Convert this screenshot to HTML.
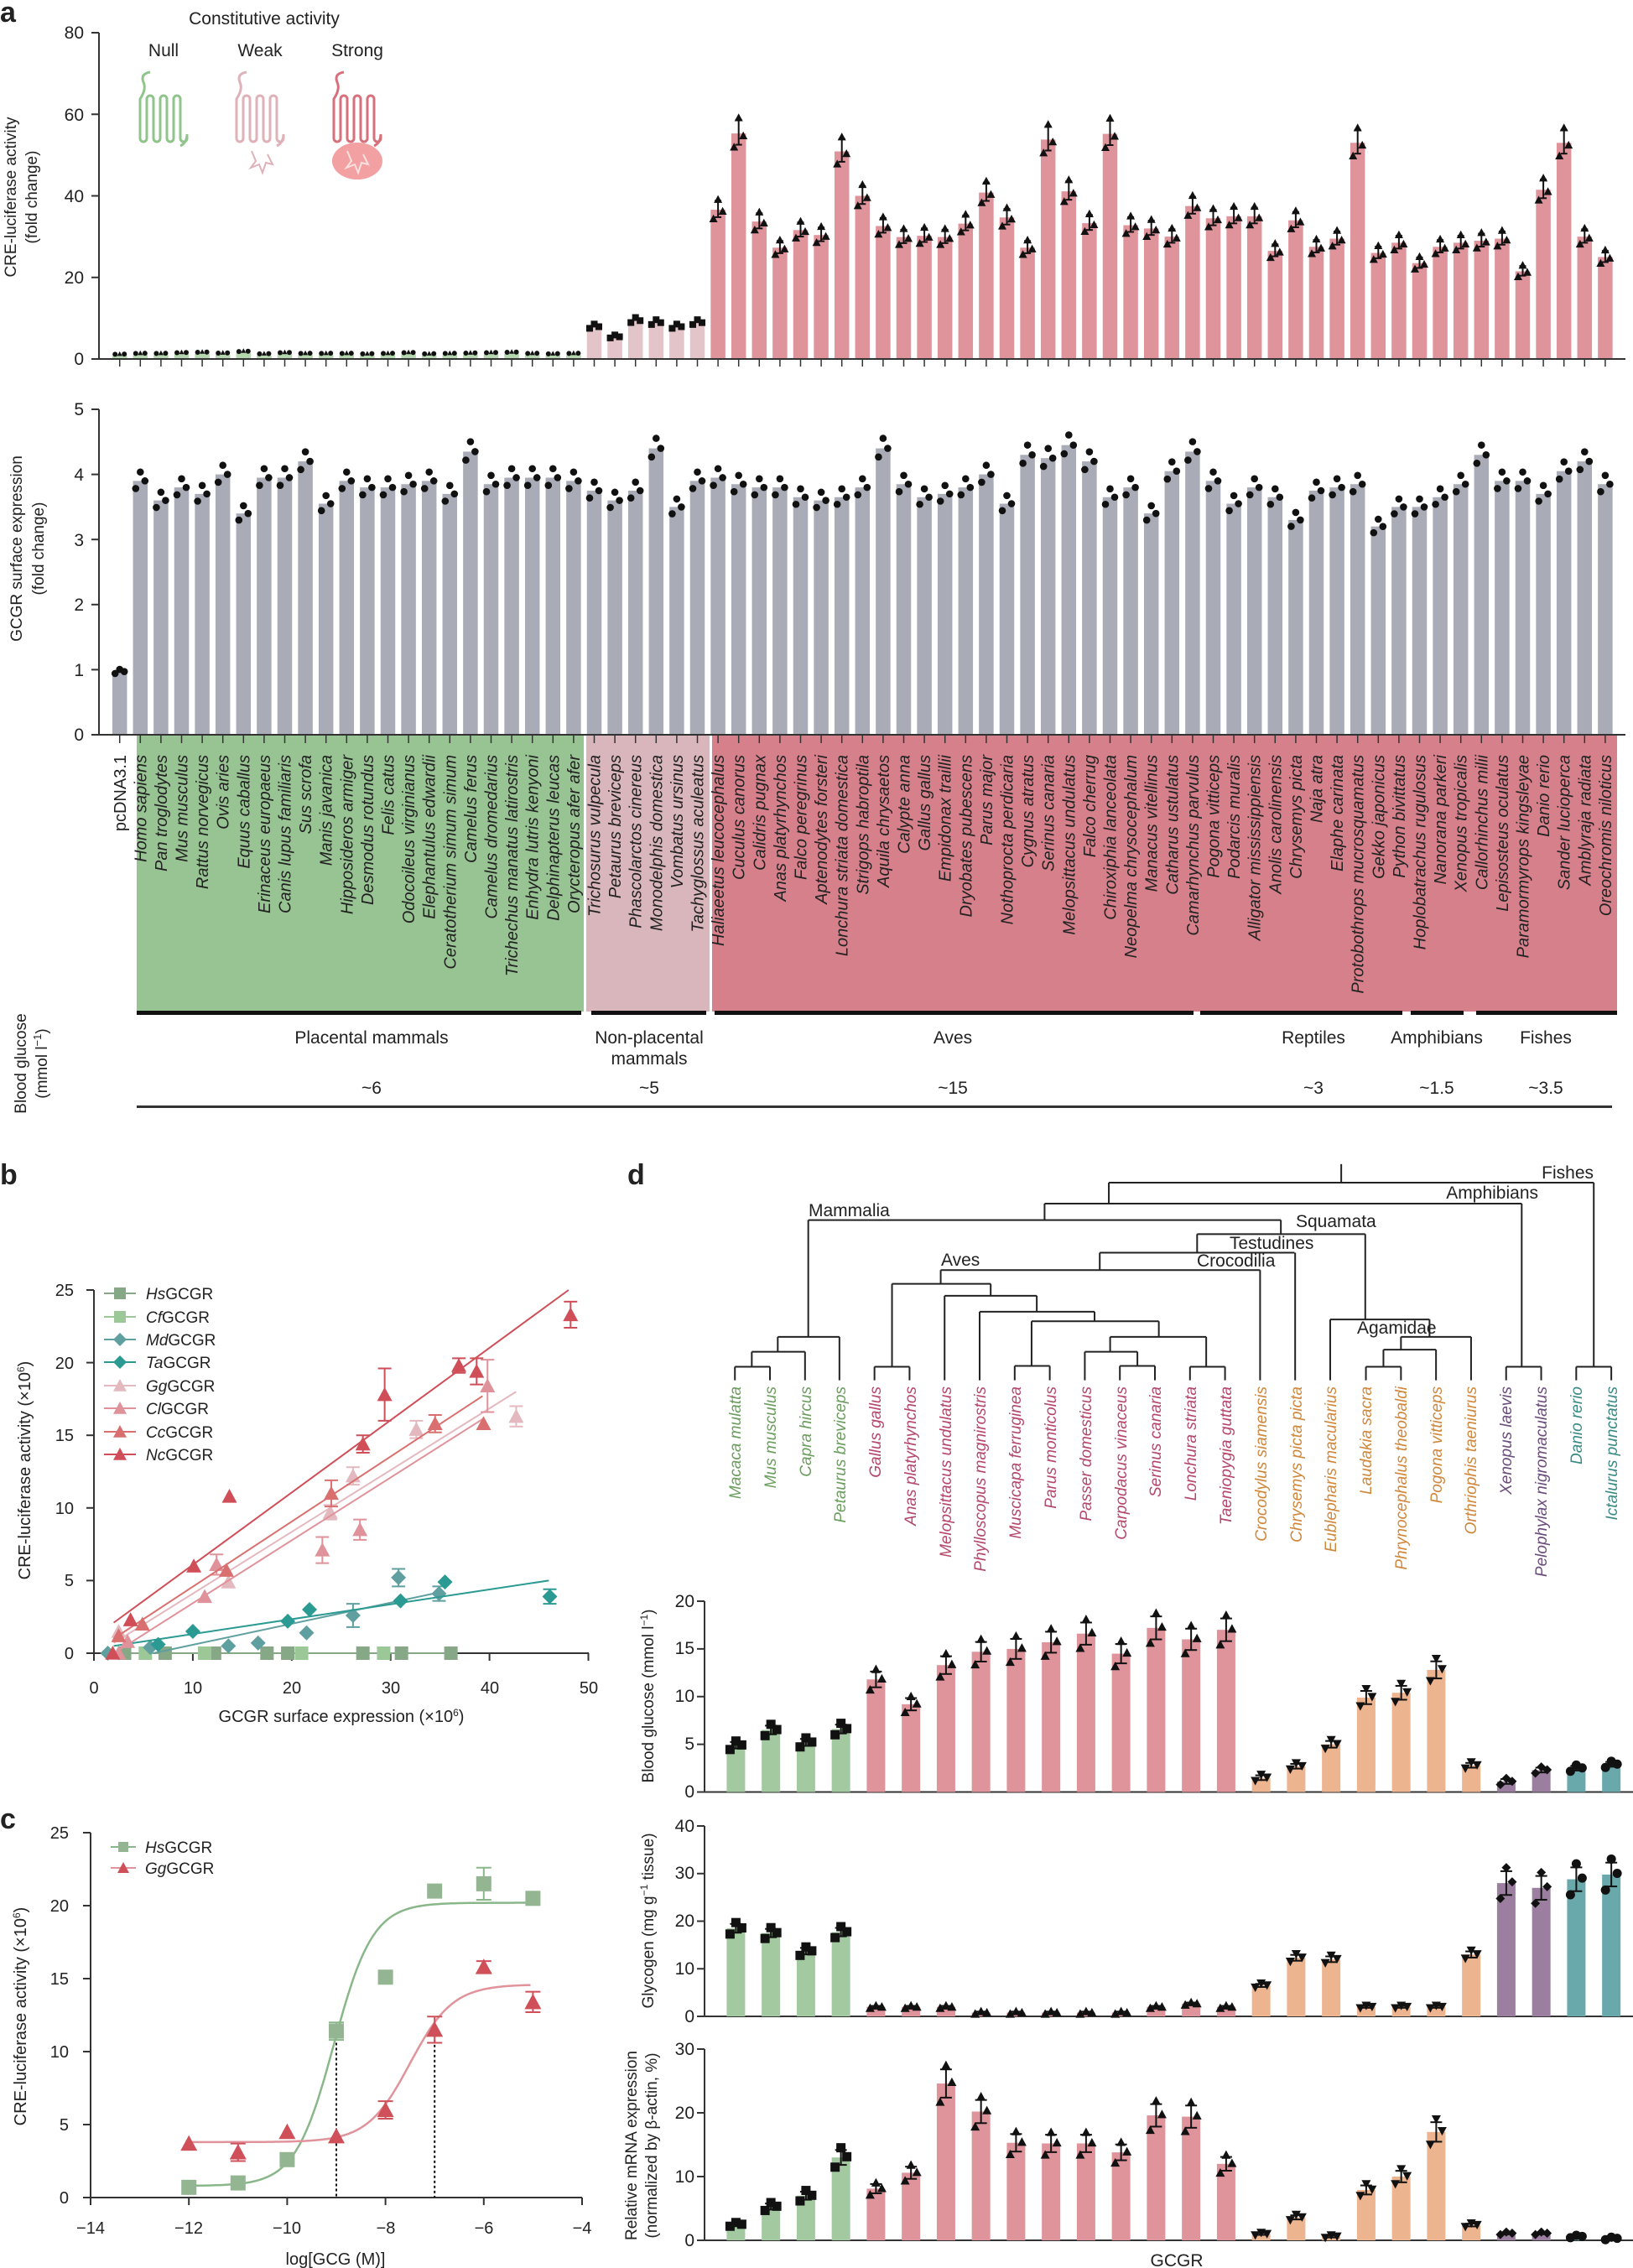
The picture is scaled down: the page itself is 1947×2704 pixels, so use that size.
<!DOCTYPE html>
<html><head><meta charset="utf-8">
<style>
html,body{margin:0;padding:0;background:#fff;}
svg{display:block;}
text{font-family:"Liberation Sans",sans-serif;fill:#222;}
.n{font-family:"Liberation Sans Narrow","Liberation Sans",sans-serif;font-stretch:condensed;font-size:21px;}
.lab{font-size:20px;font-style:italic;}
.leaf{font-size:19px;font-style:italic;}
.t{font-size:19px;}
.L{font-size:34px;font-weight:bold;}
.cg{fill:#6a9d5e;}.cr{fill:#b4476a;}.co{fill:#d0873c;}.cp{fill:#6b4c7c;}.ct{fill:#3a8a84;}
</style></head>
<body>
<svg id="s" xmlns="http://www.w3.org/2000/svg" width="1947" height="2704" viewBox="0 0 1947 2704">
<g id="dyn"></g>
<text class="L" x="0" y="26">a</text>
<text class="L" x="0" y="1412">b</text>
<text class="L" x="0" y="2180">c</text>
<text class="L" x="748" y="1412">d</text>

<text class="n" x="315" y="29" text-anchor="middle" font-size="20">Constitutive activity</text>
<text class="n" x="195" y="67" text-anchor="middle" font-size="20">Null</text>
<text class="n" x="310" y="67" text-anchor="middle" font-size="20">Weak</text>
<text class="n" x="426" y="67" text-anchor="middle" font-size="20">Strong</text>

<g class="n" text-anchor="end">
<text x="100" y="435">0</text><text x="100" y="338">20</text><text x="100" y="241">40</text><text x="100" y="144">60</text><text x="100" y="46">80</text>
<text x="100" y="883">0</text><text x="100" y="806">1</text><text x="100" y="728">2</text><text x="100" y="651">3</text><text x="100" y="573">4</text><text x="100" y="495">5</text>
</g>
<text class="t" transform="translate(19,235) rotate(-90)" text-anchor="middle">CRE-luciferase activity</text>
<text class="t" transform="translate(44,235) rotate(-90)" text-anchor="middle">(fold change)</text>
<text class="t" transform="translate(26,654) rotate(-90)" text-anchor="middle">GCGR surface expression</text>
<text class="t" transform="translate(52,654) rotate(-90)" text-anchor="middle">(fold change)</text>
<text class="t" transform="translate(31,1268) rotate(-90)" text-anchor="middle">Blood glucose</text>
<text class="t" transform="translate(56,1268) rotate(-90)" text-anchor="middle">(mmol l<tspan font-size="13" baseline-shift="super">−1</tspan>)</text>

<g class="lab" text-anchor="end">
<text transform="translate(150,900) rotate(-90)" font-style="normal">pcDNA3.1</text>
<text transform="translate(174.3,900) rotate(-90)">Homo sapiens</text>
<text transform="translate(198.9,900) rotate(-90)">Pan troglodytes</text>
<text transform="translate(223.5,900) rotate(-90)">Mus musculus</text>
<text transform="translate(248.1,900) rotate(-90)">Rattus norvegicus</text>
<text transform="translate(272.7,900) rotate(-90)">Ovis aries</text>
<text transform="translate(297.3,900) rotate(-90)">Equus caballus</text>
<text transform="translate(321.9,900) rotate(-90)">Erinaceus europaeus</text>
<text transform="translate(346.5,900) rotate(-90)">Canis lupus familiaris</text>
<text transform="translate(371.1,900) rotate(-90)">Sus scrofa</text>
<text transform="translate(395.7,900) rotate(-90)">Manis javanica</text>
<text transform="translate(420.3,900) rotate(-90)">Hipposideros armiger</text>
<text transform="translate(444.9,900) rotate(-90)">Desmodus rotundus</text>
<text transform="translate(469.5,900) rotate(-90)">Felis catus</text>
<text transform="translate(494.1,900) rotate(-90)">Odocoileus virginianus</text>
<text transform="translate(518.7,900) rotate(-90)">Elephantulus edwardii</text>
<text transform="translate(543.3,900) rotate(-90)">Ceratotherium simum simum</text>
<text transform="translate(567.9,900) rotate(-90)">Camelus ferus</text>
<text transform="translate(592.5,900) rotate(-90)">Camelus dromedarius</text>
<text transform="translate(617.1,900) rotate(-90)">Trichechus manatus latirostris</text>
<text transform="translate(641.7,900) rotate(-90)">Enhydra lutris kenyoni</text>
<text transform="translate(666.3,900) rotate(-90)">Delphinapterus leucas</text>
<text transform="translate(690.9,900) rotate(-90)">Orycteropus afer afer</text>
<text transform="translate(715.5,900) rotate(-90)">Trichosurus vulpecula</text>
<text transform="translate(740.1,900) rotate(-90)">Petaurus breviceps</text>
<text transform="translate(764.7,900) rotate(-90)">Phascolarctos cinereus</text>
<text transform="translate(789.3,900) rotate(-90)">Monodelphis domestica</text>
<text transform="translate(813.9,900) rotate(-90)">Vombatus ursinus</text>
<text transform="translate(838.5,900) rotate(-90)">Tachyglossus aculeatus</text>
<text transform="translate(863.1,900) rotate(-90)">Haliaeetus leucocephalus</text>
<text transform="translate(887.7,900) rotate(-90)">Cuculus canorus</text>
<text transform="translate(912.3,900) rotate(-90)">Calidris pugnax</text>
<text transform="translate(936.9,900) rotate(-90)">Anas platyrhynchos</text>
<text transform="translate(961.5,900) rotate(-90)">Falco peregrinus</text>
<text transform="translate(986.1,900) rotate(-90)">Aptenodytes forsteri</text>
<text transform="translate(1010.7,900) rotate(-90)">Lonchura striata domestica</text>
<text transform="translate(1035.3,900) rotate(-90)">Strigops habroptila</text>
<text transform="translate(1059.9,900) rotate(-90)">Aquila chrysaetos</text>
<text transform="translate(1084.5,900) rotate(-90)">Calypte anna</text>
<text transform="translate(1109.1,900) rotate(-90)">Gallus gallus</text>
<text transform="translate(1133.7,900) rotate(-90)">Empidonax traillii</text>
<text transform="translate(1158.3,900) rotate(-90)">Dryobates pubescens</text>
<text transform="translate(1182.9,900) rotate(-90)">Parus major</text>
<text transform="translate(1207.5,900) rotate(-90)">Nothoprocta perdicaria</text>
<text transform="translate(1232.1,900) rotate(-90)">Cygnus atratus</text>
<text transform="translate(1256.7,900) rotate(-90)">Serinus canaria</text>
<text transform="translate(1281.3,900) rotate(-90)">Melopsittacus undulatus</text>
<text transform="translate(1305.9,900) rotate(-90)">Falco cherrug</text>
<text transform="translate(1330.5,900) rotate(-90)">Chiroxiphia lanceolata</text>
<text transform="translate(1355.1,900) rotate(-90)">Neopelma chrysocephalum</text>
<text transform="translate(1379.7,900) rotate(-90)">Manacus vitellinus</text>
<text transform="translate(1404.3,900) rotate(-90)">Catharus ustulatus</text>
<text transform="translate(1428.9,900) rotate(-90)">Camarhynchus parvulus</text>
<text transform="translate(1453.5,900) rotate(-90)">Pogona vitticeps</text>
<text transform="translate(1478.1,900) rotate(-90)">Podarcis muralis</text>
<text transform="translate(1502.7,900) rotate(-90)">Alligator mississippiensis</text>
<text transform="translate(1527.3,900) rotate(-90)">Anolis carolinensis</text>
<text transform="translate(1551.9,900) rotate(-90)">Chrysemys picta</text>
<text transform="translate(1576.5,900) rotate(-90)">Naja atra</text>
<text transform="translate(1601.1,900) rotate(-90)">Elaphe carinata</text>
<text transform="translate(1625.7,900) rotate(-90)">Protobothrops mucrosquamatus</text>
<text transform="translate(1650.3,900) rotate(-90)">Gekko japonicus</text>
<text transform="translate(1674.9,900) rotate(-90)">Python bivittatus</text>
<text transform="translate(1699.5,900) rotate(-90)">Hoplobatrachus rugulosus</text>
<text transform="translate(1724.1,900) rotate(-90)">Nanorana parkeri</text>
<text transform="translate(1748.7,900) rotate(-90)">Xenopus tropicalis</text>
<text transform="translate(1773.3,900) rotate(-90)">Callorhinchus milii</text>
<text transform="translate(1797.9,900) rotate(-90)">Lepisosteus oculatus</text>
<text transform="translate(1822.5,900) rotate(-90)">Paramormyrops kingsleyae</text>
<text transform="translate(1847.1,900) rotate(-90)">Danio rerio</text>
<text transform="translate(1871.7,900) rotate(-90)">Sander lucioperca</text>
<text transform="translate(1896.3,900) rotate(-90)">Amblyraja radiata</text>
<text transform="translate(1920.9,900) rotate(-90)">Oreochromis niloticus</text>
</g>

<g class="n" text-anchor="middle" font-size="20">
<text x="443" y="1244">Placental mammals</text>
<text x="774" y="1244">Non-placental</text>
<text x="774" y="1269">mammals</text>
<text x="1136" y="1244">Aves</text>
<text x="1566" y="1244">Reptiles</text>
<text x="1713" y="1244">Amphibians</text>
<text x="1843" y="1244">Fishes</text>
<text x="443" y="1304">~6</text>
<text x="774" y="1304">~5</text>
<text x="1136" y="1304">~15</text>
<text x="1566" y="1304">~3</text>
<text x="1713" y="1304">~1.5</text>
<text x="1843" y="1304">~3.5</text>
</g>

<g font-size="20" text-anchor="end">
<text x="88" y="1978">0</text><text x="88" y="1891">5</text><text x="88" y="1805">10</text><text x="88" y="1718">15</text><text x="88" y="1632">20</text><text x="88" y="1545">25</text>
</g>
<g font-size="20" text-anchor="middle">
<text x="112" y="2019">0</text><text x="230" y="2019">10</text><text x="348" y="2019">20</text><text x="466" y="2019">30</text><text x="584" y="2019">40</text><text x="702" y="2019">50</text>
</g>
<text font-size="20" x="407" y="2053" text-anchor="middle">GCGR  surface expression (×10<tspan font-size="12" baseline-shift="super">6</tspan>)</text>
<text font-size="20" transform="translate(36,1753) rotate(-90)" text-anchor="middle">CRE-luciferase activity (×10<tspan font-size="12" baseline-shift="super">6</tspan>)</text>
<g font-size="19">
<text x="174" y="1549"><tspan font-style="italic">Hs</tspan>GCGR</text>
<text x="174" y="1577"><tspan font-style="italic">Cf</tspan>GCGR</text>
<text x="174" y="1604"><tspan font-style="italic">Md</tspan>GCGR</text>
<text x="174" y="1631"><tspan font-style="italic">Ta</tspan>GCGR</text>
<text x="174" y="1659"><tspan font-style="italic">Gg</tspan>GCGR</text>
<text x="174" y="1686"><tspan font-style="italic">Cl</tspan>GCGR</text>
<text x="174" y="1714"><tspan font-style="italic">Cc</tspan>GCGR</text>
<text x="174" y="1741"><tspan font-style="italic">Nc</tspan>GCGR</text>
</g>

<g font-size="20" text-anchor="end">
<text x="82" y="2627">0</text><text x="82" y="2540">5</text><text x="82" y="2453">10</text><text x="82" y="2366">15</text><text x="82" y="2279">20</text><text x="82" y="2192">25</text>
</g>
<g font-size="20" text-anchor="middle">
<text x="108" y="2663">−14</text><text x="225" y="2663">−12</text><text x="342" y="2663">−10</text><text x="460" y="2663">−8</text><text x="577" y="2663">−6</text><text x="694" y="2663">−4</text>
</g>
<text font-size="20" x="400" y="2700" text-anchor="middle">log[GCG (M)]</text>
<text font-size="20" transform="translate(31,2404) rotate(-90)" text-anchor="middle">CRE-luciferase activity (×10<tspan font-size="12" baseline-shift="super">6</tspan>)</text>
<g font-size="19">
<text x="173" y="2209"><tspan font-style="italic">Hs</tspan>GCGR</text>
<text x="173" y="2234"><tspan font-style="italic">Gg</tspan>GCGR</text>
</g>

<g class="n" font-size="19">
<text x="1900" y="1405" text-anchor="end">Fishes</text>
<text x="1834" y="1429" text-anchor="end">Amphibians</text>
<text x="964" y="1450">Mammalia</text>
<text x="1545" y="1463">Squamata</text>
<text x="1466" y="1489">Testudines</text>
<text x="1427" y="1510">Crocodilia</text>
<text x="1122" y="1509">Aves</text>
<text x="1618" y="1590">Agamidae</text>
</g>
<g class="leaf" text-anchor="end">
<text class="cg" transform="translate(883,1653) rotate(-90)">Macaca mulatta</text>
<text class="cg" transform="translate(925,1653) rotate(-90)">Mus musculus</text>
<text class="cg" transform="translate(967,1653) rotate(-90)">Capra hircus</text>
<text class="cg" transform="translate(1008,1653) rotate(-90)">Petaurus breviceps</text>
<text class="cr" transform="translate(1050,1653) rotate(-90)">Gallus gallus</text>
<text class="cr" transform="translate(1092,1653) rotate(-90)">Anas platyrhynchos</text>
<text class="cr" transform="translate(1134,1653) rotate(-90)">Melopsittacus undulatus</text>
<text class="cr" transform="translate(1175,1653) rotate(-90)">Phylloscopus magnirostris</text>
<text class="cr" transform="translate(1217,1653) rotate(-90)">Muscicapa ferruginea</text>
<text class="cr" transform="translate(1259,1653) rotate(-90)">Parus monticolus</text>
<text class="cr" transform="translate(1301,1653) rotate(-90)">Passer domesticus</text>
<text class="cr" transform="translate(1343,1653) rotate(-90)">Carpodacus vinaceus</text>
<text class="cr" transform="translate(1384,1653) rotate(-90)">Serinus canaria</text>
<text class="cr" transform="translate(1426,1653) rotate(-90)">Lonchura striata</text>
<text class="cr" transform="translate(1468,1653) rotate(-90)">Taeniopygia guttata</text>
<text class="co" transform="translate(1510,1653) rotate(-90)">Crocodylus siamensis</text>
<text class="co" transform="translate(1552,1653) rotate(-90)">Chrysemys picta picta</text>
<text class="co" transform="translate(1593,1653) rotate(-90)">Eublepharis macularius</text>
<text class="co" transform="translate(1635,1653) rotate(-90)">Laudakia sacra</text>
<text class="co" transform="translate(1677,1653) rotate(-90)">Phrynocephalus theobaldi</text>
<text class="co" transform="translate(1719,1653) rotate(-90)">Pogona vitticeps</text>
<text class="co" transform="translate(1760,1653) rotate(-90)">Orthriophis taeniurus</text>
<text class="cp" transform="translate(1802,1653) rotate(-90)">Xenopus laevis</text>
<text class="cp" transform="translate(1844,1653) rotate(-90)">Pelophylax nigromaculatus</text>
<text class="ct" transform="translate(1886,1653) rotate(-90)">Danio rerio</text>
<text class="ct" transform="translate(1928,1653) rotate(-90)">Ictalurus punctatus</text>
</g>

<g class="n" text-anchor="end" font-size="20">
<text x="828" y="2143">0</text><text x="828" y="2086">5</text><text x="828" y="2029">10</text><text x="828" y="1972">15</text><text x="828" y="1916">20</text>
<text x="828" y="2411">0</text><text x="828" y="2354">10</text><text x="828" y="2297">20</text><text x="828" y="2240">30</text><text x="828" y="2184">40</text>
<text x="828" y="2678">0</text><text x="828" y="2602">10</text><text x="828" y="2526">20</text><text x="828" y="2450">30</text>
</g>
<text class="t" transform="translate(779,2022) rotate(-90)" text-anchor="middle">Blood glucose (mmol l<tspan font-size="12" baseline-shift="super">−1</tspan>)</text>
<text class="t" transform="translate(779,2290) rotate(-90)" text-anchor="middle">Glycogen (mg g<tspan font-size="12" baseline-shift="super">−1</tspan> tissue)</text>
<text class="t" transform="translate(759,2558) rotate(-90)" text-anchor="middle">Relative mRNA expression</text>
<text class="t" transform="translate(783,2558) rotate(-90)" text-anchor="middle">(normalized by β-actin, %)</text>
<text class="n" x="1403" y="2702" text-anchor="middle" font-size="20">GCGR</text>
</svg>
<script>
(function(){
const NS='http://www.w3.org/2000/svg';
const G=document.getElementById('dyn');
function el(t,a){const e=document.createElementNS(NS,t);for(const k in a)e.setAttribute(k,a[k]);G.appendChild(e);return e;}
function line(x1,y1,x2,y2,c,w,extra){const a={x1,y1,x2,y2,stroke:c||'#222','stroke-width':w||2};if(extra)Object.assign(a,extra);return el('line',a);}
function mk(t,x,y,s,f){f=f||'#111';
 if(t=='sq')el('rect',{x:x-s,y:y-s,width:2*s,height:2*s,fill:f});
 else if(t=='tu')el('polygon',{points:`${x},${y-s} ${x-s},${y+s*.85} ${x+s},${y+s*.85}`,fill:f});
 else if(t=='td')el('polygon',{points:`${x},${y+s} ${x-s},${y-s*.85} ${x+s},${y-s*.85}`,fill:f});
 else if(t=='di')el('polygon',{points:`${x},${y-s} ${x+s},${y} ${x},${y+s} ${x-s},${y}`,fill:f});
 else el('circle',{cx:x,cy:y,r:s,fill:f});}
function eb(x,y1,y2,cw,c,w){c=c||'#111';w=w||2;line(x,y1,x,y2,c,w);line(x-cw,y1,x+cw,y1,c,w);line(x-cw,y2,x+cw,y2,c,w);}

el('rect',{x:163,y:877,width:533,height:329,fill:'#98c393'});
el('rect',{x:699,y:877,width:147,height:329,fill:'#d8b6bc'});
el('rect',{x:849,y:877,width:1079,height:329,fill:'#d6808b'});
[[163,693],[705,842],[852,1423],[1431,1672],[1682,1745],[1760,1928]].forEach(s=>el('rect',{x:s[0],y:1205,width:s[1]-s[0],height:5,fill:'#111'}));
el('rect',{x:163,y:1318,width:1759,height:3,fill:'#333'});

const top=[0.8,1,1,1.2,1.3,1.1,1.5,0.9,1.2,1,1,1,0.9,1,1.2,0.9,1,1.1,1.2,1.3,1,0.9,1,8,5.5,9.5,9,8,9,
36.6,55.3,33.7,27.3,31.6,30.4,50.9,40,32.6,29.9,30.2,29.9,33.2,40.8,34.7,27.3,53.8,41.1,33.3,55.2,32.8,
32,30,37.5,34.5,35,35,26.5,34,27.5,29.5,53,26,28.5,23.5,27.5,28.5,29,29.5,21.5,41.5,53,30,25];
let bird=[3.95,3.85,3.8,3.75,3.8,3.65,3.6,3.65,3.8,4.4,3.85,3.65,3.65,3.7,3.8,4.0,3.55,4.3,4.25,4.45,4.2,3.65,3.8,3.4,4.05,4.35,3.9,3.55,3.8,3.65,3.65,3.3,3.6,3.75,3.8,3.85,3.2,3.5,3.5,3.65,3.85,4.3,3.9,3.9,3.7,4.05,4.2,3.85];
bird.splice(32,1);bird.splice(30,1);bird.splice(12,1);bird.splice(3,1);
const bot=[0.97,3.9,3.6,3.8,3.7,4.0,3.4,3.95,3.95,4.2,3.55,3.9,3.8,3.8,3.85,3.9,3.7,4.35,3.85,3.95,3.95,3.95,3.9,3.75,3.6,3.75,4.4,3.5,3.9].concat(bird);
const X0=142.7,DX=24.6,BW=17.5;
const fa=[0.94,1.07,0.99],dxs=[-5.5,0,5.5];
for(let i=0;i<73;i++){
 const x=X0+i*DX,v=top[i];
 const col=i<23?'#b5d6af':(i<29?'#e2c4c9':'#df939b');
 const y=428-v*4.8625;
 el('rect',{x:x-BW/2,y:y,width:BW,height:428-y,fill:col});
 line(x,428,x,437,'#333',1.5);
 if(i>=29){eb(x,428-v*0.95*4.8625,428-v*1.06*4.8625,4,'#111',2);
  for(let k=0;k<3;k++)mk('tu',x+dxs[k],428-v*fa[k]*4.8625,5);}
 else if(i>=23){for(let k=0;k<3;k++)mk('sq',x+dxs[k],428-v*fa[k]*4.8625,4);}
 else {for(let k=0;k<3;k++)mk(k==1?'tu':'ci',x+dxs[k],428-v*fa[k]*4.8625-2,3);}
 const b=bot[i]; const yb=876-b*77.6;
 el('rect',{x:x-BW/2,y:yb,width:BW,height:876-yb,fill:'#a9acb6'});
 line(x,876,x,886,'#333',1.5);
 const fb=[0.97,1.035,1.0];
 for(let k=0;k<3;k++)mk('ci',x+dxs[k],876-b*fb[k]*77.6,4.3);
}
line(118,39,118,429,'#333',2);line(117,428,1938,428,'#333',2);
[0,20,40,60,80].forEach(v=>line(109,428-v*4.8625,118,428-v*4.8625,'#333',2));
line(118,488,118,877,'#333',2);line(117,876,1938,876,'#333',2);
[0,1,2,3,4,5].forEach(v=>line(109,876-v*77.6,118,876-v*77.6,'#333',2));

function serp(cx,col){
 let x=cx-28,d=`M${cx-16},86 q-12,2 -8,12 q4,8 -4,20`;
 for(let k=0;k<7;k++){const yb=k%2?118:165;d+=` L${x},${yb} a4,4 0 0 ${k%2?1:0} 8,0`;x+=8;}
 d+=` L${x},160 q0,10 -8,14`;
 el('path',{d,fill:'none',stroke:col,'stroke-width':3});
}
serp(195,'#8fc48a');serp(310,'#deb2b8');serp(426,'#d8707c');
el('path',{d:'M300,180 l5,12 l-6,8 l10,-4 l4,10 l4,-12 l8,2 l-6,-12',fill:'none',stroke:'#deb2b8','stroke-width':2});
el('ellipse',{cx:426,cy:192,rx:30,ry:22,fill:'#f2a0a2'});
el('path',{d:'M414,180 l5,12 l-6,8 l10,-4 l4,10 l4,-12 l8,2 l-6,-12',fill:'none',stroke:'#fbe0e0','stroke-width':2});

const BX=v=>112+v*11.79, BY=v=>1971-v*17.32;
line(112,1538,112,1972,'#333',2);line(111,1971,702,1971,'#333',2);
[0,5,10,15,20,25].forEach(v=>line(103,BY(v),112,BY(v),'#333',2));
[0,10,20,30,40,50].forEach(v=>line(BX(v),1971,BX(v),1980,'#333',2));
const ser=[
 ['#86a886','sq',[[3.1,0],[7.2,0],[12.2,0],[17.5,0],[19.6,0],[27.2,0],[31.1,0],[36.1,0]],[1.5,0,36,0]],
 ['#9cc898','sq',[[5.2,0],[11.2,0],[21,0],[29.3,0]],null],
 ['#5f9f9f','di',[[1.4,0],[5.7,0.4],[13.6,0.5],[16.6,0.7],[21.5,1.4],[26.2,2.6,0.8],[30.8,5.2,0.6],[34.9,4.1,0.5]],[6,0,35,4.2]],
 ['#2a9a92','di',[[6.5,0.6],[10,1.5],[19.6,2.2],[21.8,3.0],[31,3.6],[35.5,4.9],[46.1,3.9,0.5]],[2,0.5,46,5]],
 ['#e3b9bf','tu',[[2.5,1.5],[13.6,4.9],[23.9,9.7,0.5],[26.2,12.2,0.6],[32.6,15.4,0.6],[42.7,16.3,0.7]],[2,0.7,42.7,18]],
 ['#e0929a','tu',[[2.5,0],[3.4,0.8],[11.2,3.9],[12.4,6.1,0.7],[23.1,7.1,0.9],[26.9,8.5,0.7],[39.8,18.4,1.8]],[2.5,0.2,39.5,16.2]],
 ['#d9706f','tu',[[2.5,1.2],[4.9,2.0],[13.4,5.7],[24,11,0.9],[34.5,15.8,0.6],[39.4,15.8]],[2,1.0,39.3,17.7]],
 ['#d04e58','tu',[[1.9,0],[3.7,2.3],[10.1,6.0],[13.7,10.8],[27.2,14.4,0.6],[29.4,17.8,1.8],[36.9,19.8,0.5],[38.7,19.4,0.9],[48.2,23.3,0.9]],[2,2.1,48,25]]
];
ser.forEach((s,j)=>{
 if(s[3])line(BX(s[3][0]),BY(s[3][1]),BX(s[3][2]),BY(s[3][3]),s[0],2);
 s[2].forEach(p=>{ if(p[2])eb(BX(p[0]),BY(p[1]-p[2]),BY(p[1]+p[2]),8,s[0],2);
  mk(s[1],BX(p[0]),BY(p[1]),s[1]=='sq'?8:9,s[0]);});
 const ly=[1542,1570,1597,1624,1652,1679,1707,1734][j];
 line(124,ly,162,ly,s[0],2);mk(s[1],143,ly,s[1]=='sq'?7:8,s[0]);
});

const CX=v=>108+(v+14)*58.6, CY=v=>2620-v*17.4;
line(108,2185,108,2621,'#333',2);line(107,2620,694,2620,'#333',2);
[0,5,10,15,20,25].forEach(v=>line(99,CY(v),108,CY(v),'#333',2));
[-14,-12,-10,-8,-6,-4].forEach(v=>line(CX(v),2620,CX(v),2629,'#333',2));
function curve(b,t,m,h,col){let d='';for(let x=-12;x<=-5.001;x+=0.05){const y=b+(t-b)/(1+Math.pow(10,(m-x)*h));d+=(d?' L':'M')+CX(x).toFixed(1)+','+CY(y).toFixed(1);}
 el('path',{d,fill:'none',stroke:col,'stroke-width':2.5});}
curve(0.8,20.2,-9.05,1.1,'#8ab78a');curve(3.8,14.6,-7.5,1.0,'#e0939a');
line(CX(-9),CY(10.6),CX(-9),2620,'#111',2,{'stroke-dasharray':'3,3'});
line(CX(-7),CY(11.5),CX(-7),2620,'#111',2,{'stroke-dasharray':'3,3'});
const hs=[[-12,0.7],[-11,1.0],[-10,2.6],[-9,11.4,0.6],[-8,15.1],[-7,21],[-6,21.5,1.1],[-5,20.5]];
const gg=[[-12,3.7],[-11,3.1,0.6],[-10,4.5],[-9,4.2],[-8,6,0.6],[-7,11.5,0.9],[-6,15.8,0.4],[-5,13.4,0.7]];
hs.forEach(p=>{if(p[2])eb(CX(p[0]),CY(p[1]-p[2]),CY(p[1]+p[2]),9,'#8ab78a',2);mk('sq',CX(p[0]),CY(p[1]),9,'#93b592');});
gg.forEach(p=>{if(p[2])eb(CX(p[0]),CY(p[1]-p[2]),CY(p[1]+p[2]),9,'#d0505a',2);mk('tu',CX(p[0]),CY(p[1]),10,'#d0505a');});
line(132,2202,162,2202,'#8ab78a',2);mk('sq',147,2202,6,'#93b592');
line(132,2227,162,2227,'#e0939a',2);mk('tu',147,2227,7,'#d0505a');

const tp='M1110 78V140 M752 140H1499 M752 140V210 M653 210H1388 M653 210V265 M289 265H1017 M1017 265V312 M888 312H1147 M888 312V374 M738 374H1038 M738 374V432 M493 432H985 M985 432V800 M1039 374V800 M1147 312V597 M1093 597H1246 M1093 597V800 M1246 597V655 M1202 655H1310 M1310 655V800 M1202 655V698 M1175 698H1256 M1256 698V800 M1175 698V755 M1148 755H1202 M1148 755V800 M1202 755V800 M1388 210V755 M1364 755H1418 M1364 755V800 M1418 755V800 M1499 140V755 M1472 755H1526 M1472 755V800 M1526 755V800 M289 265V655 M242 655H337 M337 655V800 M242 655V705 M202 705H284 M284 705V800 M202 705V755 M176 755H230 M176 755V800 M230 755V800 M493 432V478 M418 478H570 M418 478V755 M391 755H445 M391 755V800 M445 755V800 M570 478V518 M499 518H641 M499 518V800 M641 518V571 M553 571H730 M553 571V800 M730 571V603 M633 603H829 M633 603V752 M607 752H661 M607 752V800 M661 752V800 M829 603V655 M754 655H902 M754 655V705 M715 705H796 M715 705V800 M796 705V752 M769 752H823 M769 752V800 M823 752V800 M902 655V755 M877 755H931 M877 755V800 M931 755V800';
el('path',{d:tp,fill:'none',stroke:'#222','stroke-width':2,'vector-effect':'non-scaling-stroke',transform:'translate(740,1360) scale(0.774,0.357)'});

const bg=[4.9,6.5,5.2,6.6,11.8,9.2,13.3,14.7,15.0,15.7,16.6,14.5,17.2,16.0,17.0,1.5,2.7,5.0,9.9,10.4,12.8,2.8,1.1,2.3,2.5,2.9];
const gl=[18.5,17.5,13.7,17.7,2,2,2,0.8,0.8,0.8,0.8,0.8,2,2.7,2,6.5,12.3,12,2,2,2,13,28,27,28.8,29.8];
const mr=[2.5,5.3,7,13,8.1,10.6,24.6,20.2,15.3,15.2,15.2,13.8,19.6,19.4,12,1,3.6,0.6,7.9,10,17,2.4,1.1,1.1,0.6,0.3];
function grp(i){return i<4?0:i<15?1:i<22?2:i<24?3:4;}
const cols=['#a3c9a0','#df939b','#ecb48f','#9c7fa0','#6aa9ab'];
const mks=['sq','tu','td','di','ci'];
function panel(data,base,sc,top,spreadF){
 line(840,top,840,base+1,'#333',2);line(839,base,1947,base,'#333',2);
 for(let i=0;i<26;i++){
  const x=877.4+i*41.75,v=data[i],g=grp(i),y=base-v*sc;
  el('rect',{x:x-11,y:y,width:22,height:base-y,fill:cols[g]});
  const sp=spreadF(i,v);
  eb(x,base-(v-sp)*sc,base-(v+sp)*sc,7,'#111',2);
  const f=[-1.3,1.3,0.1];
  for(let k=0;k<3;k++)mk(mks[g],x+[-7,0,7][k],base-(v+sp*f[k])*sc,5.5);
 }
}
panel(bg,2136.5,11.375,1909,(i,v)=>Math.max(0.25,v*0.07));
[0,5,10,15,20].forEach(v=>line(831,2136.5-v*11.375,840,2136.5-v*11.375,'#333',2));
panel(gl,2404,5.675,2177,(i,v)=>i>=22?2.5:Math.max(0.2,v*0.05));
[0,10,20,30,40].forEach(v=>line(831,2404-v*5.675,840,2404-v*5.675,'#333',2));
panel(mr,2671,7.6,2443,(i,v)=>Math.max(0.15,v*0.09));
[0,10,20,30].forEach(v=>line(831,2671-v*7.6,840,2671-v*7.6,'#333',2));
})();
</script>
</body></html>
